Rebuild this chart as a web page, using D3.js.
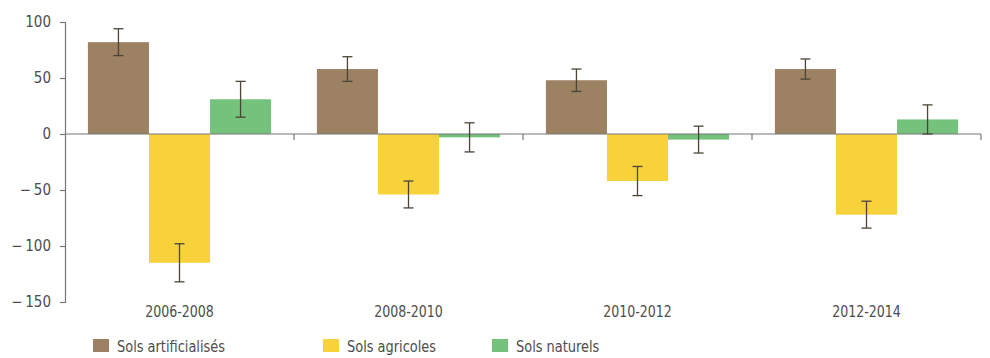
<!DOCTYPE html>
<html>
<head>
<meta charset="utf-8">
<script src="https://cdn.jsdelivr.net/npm/d3@7"></script>
<style>
  html, body { margin: 0; padding: 0; background: #fff; }
  svg text { font-family: "DejaVu Sans Condensed", "Liberation Sans Narrow", sans-serif; fill: #4d4d4d; }
</style>
</head>
<body>
<svg id="chart" width="990" height="358"></svg>
<script>
// Periods and land-use series
const periods = ["2006-2008", "2008-2010", "2010-2012", "2012-2014"];
const series = ["Sols artificialisés", "Sols agricoles", "Sols naturels"];
const colors = ["#9c8163", "#f8d23a", "#74c27c"];

// Net change per period (one array per series) and the matching error margins
const artificialises = [82, 58, 48, 58];
const agricoles = [-115, -54, -42, -72];
const naturels = [31, -3, -5, 13];
const errArtificialises = [12, 11, 10, 9];
const errAgricoles = [17, 12, 13, 12];
const errNaturels = [16, 13, 12, 13];

const yTicks = [100, 50, 0, -50, -100, -150];

const values = [artificialises, agricoles, naturels];
const errors = [errArtificialises, errAgricoles, errNaturels];

const svg = d3.select("#chart");
const plotLeft = 65, plotRight = 981, plotTop = 22, plotBottom = 302;

const x = d3.scaleBand().domain(periods).range([plotLeft, plotRight]).padding(0);
const xs = d3.scaleBand().domain(series).range([0, x.bandwidth()])
  .paddingInner(0).paddingOuter(0.375);
const y = d3.scaleLinear().domain([-150, 100]).range([plotBottom, plotTop]);

const axisColor = "#777";

// Y axis
const yAxis = svg.append("g").attr("transform", `translate(${plotLeft},0)`)
  .call(d3.axisLeft(y).tickValues(yTicks).tickSize(5).tickPadding(9)
    .tickFormat(d => d < 0 ? "\u2212\u2009" + Math.abs(d) : String(d)));
yAxis.select(".domain").attr("stroke", axisColor).attr("stroke-width", 1.2);
yAxis.selectAll(".tick line").attr("stroke", axisColor).attr("stroke-width", 1.2);
yAxis.selectAll(".tick text").attr("font-size", 15).attr("fill", "#4d4d4d")
  .style("font-family", "\"DejaVu Sans Condensed\", \"Liberation Sans Narrow\", sans-serif");

// Bars
series.forEach((s, si) => {
  svg.append("g").selectAll("rect").data(periods).join("rect")
    .attr("x", p => x(p) + xs(s))
    .attr("width", xs.bandwidth())
    .attr("y", (p, i) => y(Math.max(0, values[si][i])))
    .attr("height", (p, i) => Math.abs(y(values[si][i]) - y(0)))
    .attr("fill", colors[si]);
});

// Zero line with period separators
svg.append("line").attr("x1", plotLeft).attr("x2", plotRight)
  .attr("y1", y(0)).attr("y2", y(0))
  .attr("stroke", axisColor).attr("stroke-width", 1.2);
svg.append("g").selectAll("line").data(periods).join("line")
  .attr("x1", p => x(p) + x.bandwidth()).attr("x2", p => x(p) + x.bandwidth())
  .attr("y1", y(0)).attr("y2", y(0) + 6)
  .attr("stroke", axisColor).attr("stroke-width", 1.2);

// Error bars
const errColor = "#4a4536";
series.forEach((s, si) => {
  const g = svg.append("g");
  periods.forEach((p, i) => {
    const cx = x(p) + xs(s) + xs.bandwidth() / 2;
    const v = values[si][i], e = errors[si][i];
    const y1 = y(v + e), y2 = y(v - e);
    g.append("line").attr("x1", cx).attr("x2", cx).attr("y1", y1).attr("y2", y2)
      .attr("stroke", errColor).attr("stroke-width", 1.3);
    [y1, y2].forEach(yy => g.append("line")
      .attr("x1", cx - 5).attr("x2", cx + 5).attr("y1", yy).attr("y2", yy)
      .attr("stroke", errColor).attr("stroke-width", 1.3));
  });
});

// Period labels (horizontally condensed)
svg.append("g").selectAll("text").data(periods).join("text")
  .attr("transform", p => `translate(${x(p) + x.bandwidth() / 2},317) scale(0.85,1)`)
  .attr("text-anchor", "middle")
  .attr("font-size", 16.5)
  .text(p => p);

// Legend
const legendX = [93, 323, 492];
const legend = svg.append("g").selectAll("g").data(series).join("g")
  .attr("transform", (s, i) => `translate(${legendX[i]},339)`);
legend.append("rect").attr("width", 16).attr("height", 13)
  .attr("fill", (s, i) => colors[i]);
legend.append("text")
  .attr("transform", "translate(24,13) scale(0.9,1)")
  .attr("font-size", 16)
  .text(s => s);
</script>
</body>
</html>
